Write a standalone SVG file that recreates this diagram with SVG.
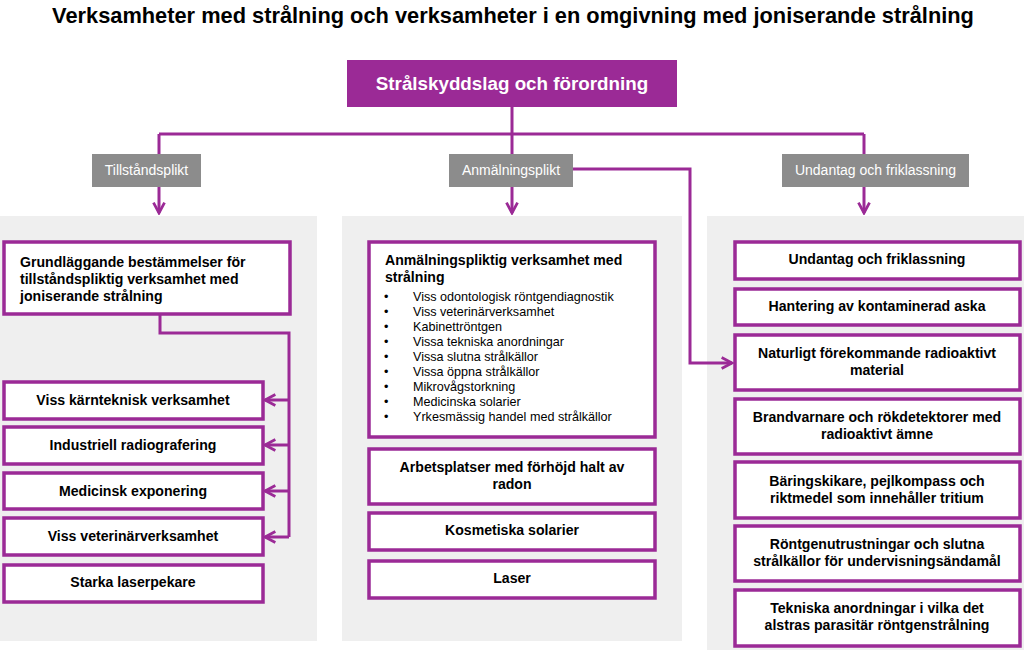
<svg xmlns="http://www.w3.org/2000/svg" width="1024" height="650" viewBox="0 0 1024 650">
<defs>
<marker id="arr" viewBox="0 0 10 10" refX="8.5" refY="5" markerWidth="4.6" markerHeight="4.6" orient="auto" markerUnits="strokeWidth">
<path d="M1,1 L8.5,5 L1,9" fill="none" stroke="#9B2A96" stroke-width="2" stroke-linejoin="miter"/>
</marker>
</defs>
<style>
.title{font-family:"Liberation Sans",Arial,sans-serif;font-weight:bold;font-size:21.8px;fill:#000}
.top{fill:#9B2A96}
.toptxt{font-family:"Liberation Sans",Arial,sans-serif;font-weight:bold;font-size:18.8px;fill:#fff}
.lab{fill:#8C8C8C}
.labtxt{font-family:"Liberation Sans",Arial,sans-serif;font-size:14px;fill:#fff}
.panel{fill:#EFEFEF}
.box{fill:#fff;stroke:#9B2A96;stroke-width:3.5}
.bt{font-family:"Liberation Sans",Arial,sans-serif;font-weight:bold;font-size:14.1px;fill:#000}
.lt{font-family:"Liberation Sans",Arial,sans-serif;font-size:12.6px;fill:#000}
.c{fill:none;stroke:#9B2A96;stroke-width:3}
</style>
<rect width="1024" height="650" fill="#fff"/>
<text class="title" x="513" y="23" text-anchor="middle">Verksamheter med strålning och verksamheter i en omgivning med joniserande strålning</text>

<rect class="panel" x="0" y="216" width="317" height="425"/>
<rect class="panel" x="342" y="216" width="340" height="425"/>
<rect class="panel" x="707" y="216" width="317" height="434"/>

<g id="connectors">
<path class="c" d="M512,107 V134 M159,134 H864"/>
<path class="c" d="M159,134 V154"/>
<path class="c" d="M864,134 V154"/>
<path class="c" d="M512,134 V154"/>
<path class="c" d="M159,187 V213" marker-end="url(#arr)"/>
<path class="c" d="M512,187 V213" marker-end="url(#arr)"/>
<path class="c" d="M864,187 V213" marker-end="url(#arr)"/>
<path class="c" d="M573,169 H690 V363 H732" marker-end="url(#arr)"/>
<path class="c" d="M160,314 V333 H289 V537"/>
<path class="c" d="M289,400 H265" marker-end="url(#arr)"/>
<path class="c" d="M289,445 H265" marker-end="url(#arr)"/>
<path class="c" d="M289,491 H265" marker-end="url(#arr)"/>
<path class="c" d="M289,537 H265" marker-end="url(#arr)"/>
</g>

<g id="top">
<rect class="top" x="347" y="60" width="330" height="47"/>
<text class="toptxt" x="512" y="90" text-anchor="middle">Strålskyddslag och förordning</text>
</g>
<g id="lab1"><rect class="lab" x="92" y="154" width="109" height="33"/><text class="labtxt" x="146.5" y="175" text-anchor="middle">Tillståndsplikt</text></g>
<g id="lab2"><rect class="lab" x="449" y="154" width="124" height="33"/><text class="labtxt" x="511" y="175" text-anchor="middle">Anmälningsplikt</text></g>
<g id="lab3"><rect class="lab" x="782" y="154" width="187" height="33"/><text class="labtxt" x="875.5" y="175" text-anchor="middle">Undantag och friklassning</text></g>

<g id="l1"><rect class="box" x="4" y="242" width="286" height="72"/>
<text class="bt" x="20" y="267">Grundläggande bestämmelser för</text>
<text class="bt" x="20" y="284">tillståndspliktig verksamhet med</text>
<text class="bt" x="20" y="301">joniserande strålning</text></g>
<g id="l2"><rect class="box" x="4" y="382" width="259" height="37"/><text class="bt" x="133" y="405" text-anchor="middle">Viss kärnteknisk verksamhet</text></g>
<g id="l3"><rect class="box" x="4" y="427" width="259" height="37"/><text class="bt" x="133" y="450" text-anchor="middle">Industriell radiografering</text></g>
<g id="l4"><rect class="box" x="4" y="473" width="259" height="36"/><text class="bt" x="133" y="496" text-anchor="middle">Medicinsk exponering</text></g>
<g id="l5"><rect class="box" x="4" y="518" width="259" height="37"/><text class="bt" x="133" y="541" text-anchor="middle">Viss veterinärverksamhet</text></g>
<g id="l6"><rect class="box" x="4" y="565" width="259" height="37"/><text class="bt" x="133" y="587" text-anchor="middle">Starka laserpekare</text></g>

<g id="m1"><rect class="box" x="369" y="242" width="286" height="195"/>
<text class="bt" x="385" y="265">Anmälningspliktig verksamhet med</text>
<text class="bt" x="385" y="282">strålning</text>
<g class="lt">
<text x="384" y="301">•</text><text x="413" y="301">Viss odontologisk röntgendiagnostik</text>
<text x="384" y="316">•</text><text x="413" y="316">Viss veterinärverksamhet</text>
<text x="384" y="331">•</text><text x="413" y="331">Kabinettröntgen</text>
<text x="384" y="346">•</text><text x="413" y="346">Vissa tekniska anordningar</text>
<text x="384" y="361">•</text><text x="413" y="361">Vissa slutna strålkällor</text>
<text x="384" y="376">•</text><text x="413" y="376">Vissa öppna strålkällor</text>
<text x="384" y="391">•</text><text x="413" y="391">Mikrovågstorkning</text>
<text x="384" y="406">•</text><text x="413" y="406">Medicinska solarier</text>
<text x="384" y="421">•</text><text x="413" y="421">Yrkesmässig handel med strålkällor</text>
</g></g>
<g id="m2"><rect class="box" x="369" y="449" width="286" height="55"/>
<text class="bt" x="512" y="472" text-anchor="middle">Arbetsplatser med förhöjd halt av</text>
<text class="bt" x="512" y="489" text-anchor="middle">radon</text></g>
<g id="m3"><rect class="box" x="369" y="513" width="286" height="37"/><text class="bt" x="512" y="535" text-anchor="middle">Kosmetiska solarier</text></g>
<g id="m4"><rect class="box" x="369" y="561" width="286" height="37"/><text class="bt" x="512" y="583" text-anchor="middle">Laser</text></g>

<g id="r1"><rect class="box" x="735" y="242" width="285" height="37"/><text class="bt" x="877" y="264" text-anchor="middle">Undantag och friklassning</text></g>
<g id="r2"><rect class="box" x="735" y="289" width="285" height="36"/><text class="bt" x="877" y="311" text-anchor="middle">Hantering av kontaminerad aska</text></g>
<g id="r3"><rect class="box" x="735" y="335" width="285" height="55"/>
<text class="bt" x="877" y="358" text-anchor="middle">Naturligt förekommande radioaktivt</text>
<text class="bt" x="877" y="375" text-anchor="middle">material</text></g>
<g id="r4"><rect class="box" x="735" y="399" width="285" height="55"/>
<text class="bt" x="877" y="422" text-anchor="middle">Brandvarnare och rökdetektorer med</text>
<text class="bt" x="877" y="439" text-anchor="middle">radioaktivt ämne</text></g>
<g id="r5"><rect class="box" x="735" y="462" width="285" height="56"/>
<text class="bt" x="877" y="486" text-anchor="middle">Bäringskikare, pejlkompass och</text>
<text class="bt" x="877" y="503" text-anchor="middle">riktmedel som innehåller tritium</text></g>
<g id="r6"><rect class="box" x="735" y="526" width="285" height="55"/>
<text class="bt" x="877" y="549" text-anchor="middle">Röntgenutrustningar och slutna</text>
<text class="bt" x="877" y="566" text-anchor="middle">strålkällor för undervisningsändamål</text></g>
<g id="r7"><rect class="box" x="735" y="590" width="285" height="56"/>
<text class="bt" x="877" y="613" text-anchor="middle">Tekniska anordningar i vilka det</text>
<text class="bt" x="877" y="630" text-anchor="middle">alstras parasitär röntgenstrålning</text></g>
</svg>
